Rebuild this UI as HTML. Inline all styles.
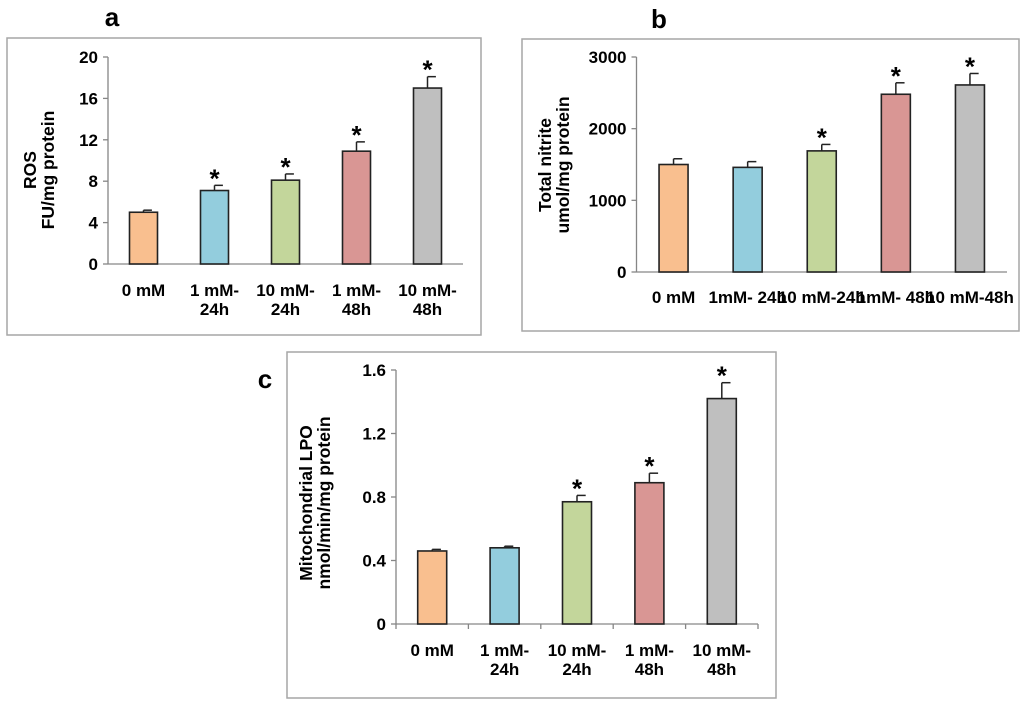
<!DOCTYPE html>
<html><head><meta charset="utf-8"><style>
body{margin:0;background:#fff;}
svg{display:block;font-family:"Liberation Sans",Arial,sans-serif;font-weight:bold;}
</style></head><body>
<svg id="fig" width="1024" height="704" viewBox="0 0 1024 704" xmlns="http://www.w3.org/2000/svg"></svg>
<script>
const colors = ["#f9bf8f","#93cddd","#c3d69b","#d99694","#bfbfbf"];
const catsA = [["0 mM"],["1 mM-","24h"],["10 mM-","24h"],["1 mM-","48h"],["10 mM-","48h"]];
const valsA = [5.0,7.1,8.1,10.9,17.0];
const errsA = [0.2,0.5,0.6,0.9,1.1];
const sigA = [false,true,true,true,true];
const ticksA = [0,4,8,12,16,20];
const catsB = [["0 mM"],["1mM- 24h"],["10 mM-24h"],["1mM- 48h"],["10 mM-48h"]];
const valsB = [1500,1460,1690,2480,2610];
const errsB = [80,80,90,160,160];
const sigB = [false,false,true,true,true];
const ticksB = [0,1000,2000,3000];
const catsC = [["0 mM"],["1 mM-","24h"],["10 mM-","24h"],["1 mM-","48h"],["10 mM-","48h"]];
const valsC = [0.46,0.48,0.77,0.89,1.42];
const errsC = [0.01,0.01,0.04,0.06,0.1];
const sigC = [false,false,true,true,true];
const ticksC = ["0","0.4","0.8","1.2","1.6"];

const NS="http://www.w3.org/2000/svg";
const svg=document.getElementById('fig');
function mk(tag,attrs,parent,text){const e=document.createElementNS(NS,tag);for(const k in attrs)e.setAttribute(k,attrs[k]);if(text!==undefined)e.textContent=text;(parent||svg).appendChild(e);return e;}

function chart(o){
  const g=mk('g',{});
  
  
  const box=mk('rect',{x:o.box[0],y:o.box[1],width:o.box[2],height:o.box[3],fill:'none',stroke:'#a6a6a6','stroke-width':1.5},g);
  
  
  const lab=mk('text',{x:o.label[0],y:o.label[1],'font-size':26,'text-anchor':'middle'},g,o.letter);
  
  
  const ymax=Number(o.ticks[o.ticks.length-1]);
  const Y=v=>o.y0-(v/ymax)*(o.y0-o.yTop);
  const n=o.vals.length, cw=(o.x1-o.x0)/n;
  const X=i=>o.x0+cw*(i+0.5);
  const ya=mk('line',{x1:o.x0,y1:o.yTop,x2:o.x0,y2:o.y0,stroke:'#868686','stroke-width':1.3},g);
  
  
  o.ticks.forEach(t=>{
    const y=Y(Number(t));
    mk('line',{x1:o.x0-5,y1:y,x2:o.x0,y2:y,stroke:'#868686','stroke-width':1.3},g);
    const tl=mk('text',{x:o.x0-10,y:y+6,'font-size':17,'text-anchor':'end'},g,t);
    
    
  });
  const xa=mk('line',{x1:o.x0,y1:o.y0,x2:o.x1,y2:o.y0,stroke:'#868686','stroke-width':1.3},g);
  
  
  if(o.xticks){for(let i=0;i<=n;i++){mk('line',{x1:o.x0+cw*i,y1:o.y0,x2:o.x0+cw*i,y2:o.y0+5,stroke:'#868686','stroke-width':1.3},g);}}
  const bw=o.bw;
  o.vals.forEach((v,i)=>{
    const cx=X(i), y=Y(v), ye=Y(v+o.errs[i]);
    mk('line',{x1:cx,y1:y,x2:cx,y2:ye,stroke:'#222','stroke-width':1.5},g);
    mk('line',{x1:cx,y1:ye,x2:cx+bw*0.3,y2:ye,stroke:'#222','stroke-width':1.5},g);
    const b=mk('rect',{x:cx-bw/2,y:y,width:bw,height:o.y0-y,fill:colors[i],stroke:'#222','stroke-width':1.6},g);
    
    
    if(o.sig[i]){
      const s=mk('text',{x:cx,y:ye+2,'font-size':26,'text-anchor':'middle'},g,'*');
      
      
    }
    o.cats[i].forEach((line,k)=>{
      const t=mk('text',{x:cx,y:o.y0+o.xlY+k*19,'font-size':17,'text-anchor':'middle'},g,line);
      
      
    });
  });
  const tt=mk('text',{transform:`translate(${o.title[0]},${o.title[1]}) rotate(-90)`,'font-size':17.5,'text-anchor':'middle'},g);
  
  
  o.titleLines.forEach((l,k)=>{mk('tspan',{x:0,y:k*18},tt,l);});
}

chart({name:'panel-a-ros',letter:'a',box:[7,38,474,297],label:[112,26],x0:108,x1:463,y0:264,yTop:57,bw:28,
  vals:valsA,errs:errsA,sig:sigA,cats:catsA,ticks:ticksA,xlY:32,title:[36,170],titleLines:['ROS','FU/mg protein'],xticks:false});
chart({name:'panel-b-nitrite',letter:'b',box:[522,39,497,292],label:[659,28],x0:636.5,x1:1007,y0:272,yTop:57,bw:29,
  vals:valsB,errs:errsB,sig:sigB,cats:catsB,ticks:ticksB,xlY:31,title:[551,165],titleLines:['Total nitrite','umol/mg protein'],xticks:false});
chart({name:'panel-c-lpo',letter:'c',box:[287,352,489,346],label:[265,388],x0:396,x1:758,y0:624,yTop:370,bw:29,
  vals:valsC,errs:errsC,sig:sigC,cats:catsC,ticks:ticksC,xlY:32,title:[312,503],titleLines:['Mitochondrial LPO','nmol/min/mg protein'],xticks:true});
</script>
</body></html>
